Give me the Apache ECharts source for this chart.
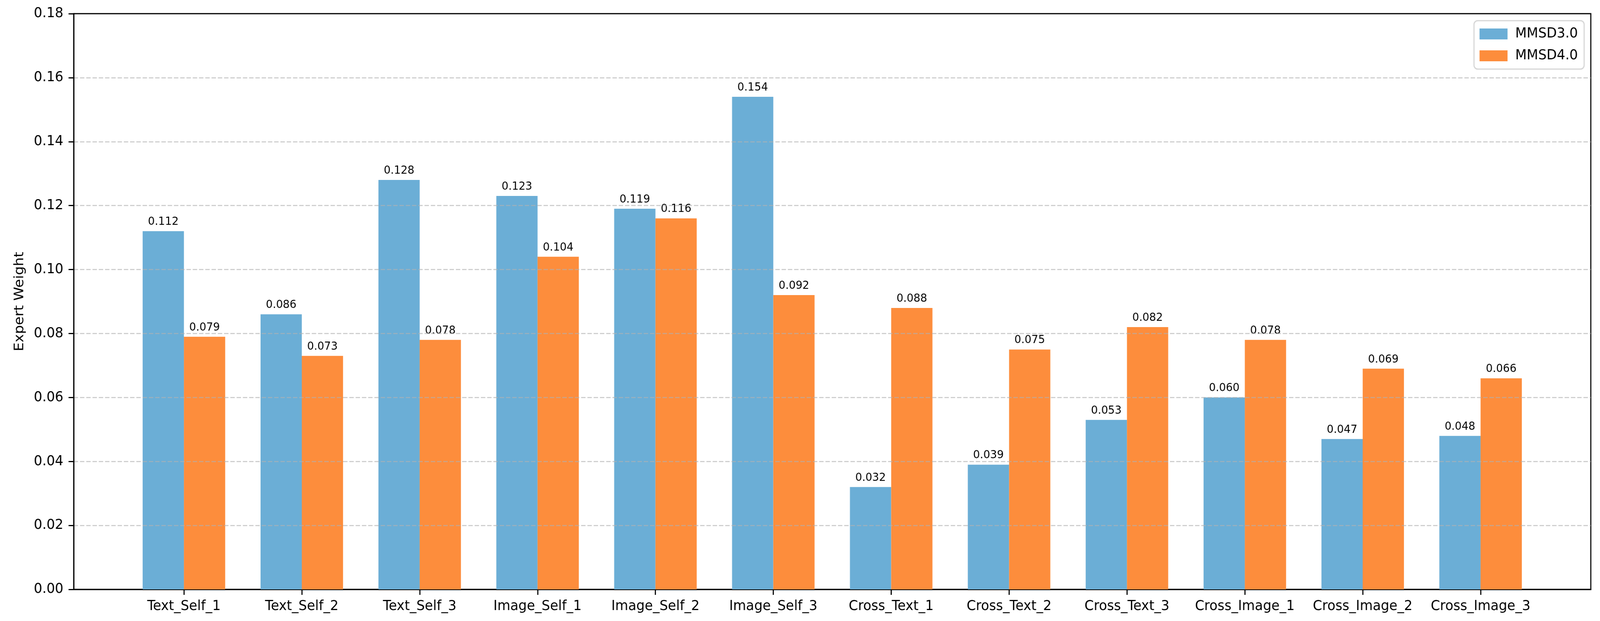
<!DOCTYPE html>
<html>
<head>
<meta charset="utf-8">
<script src="https://cdn.jsdelivr.net/npm/echarts@6/dist/echarts.min.js"></script>
<style>
html,body{margin:0;padding:0;background:#fff;overflow:hidden;}
#chart{width:4342px;height:1591px;transform-origin:0 0;}
</style>
</head>
<body>
<div id="chart"></div>
<script>
const categories = ['Text_Self_1','Text_Self_2','Text_Self_3','Image_Self_1','Image_Self_2','Image_Self_3','Cross_Text_1','Cross_Text_2','Cross_Text_3','Cross_Image_1','Cross_Image_2','Cross_Image_3'];
const mmsd3 = [0.112, 0.086, 0.128, 0.123, 0.119, 0.154, 0.032, 0.039, 0.053, 0.060, 0.047, 0.048];
const mmsd4 = [0.079, 0.073, 0.078, 0.104, 0.116, 0.092, 0.088, 0.075, 0.082, 0.078, 0.069, 0.066];
const seriesNames = ['MMSD3.0', 'MMSD4.0'];

// fit the 4342x1591 design into the actual viewport
const W = 4342, H = 1591;
const box = document.getElementById('chart');
const sx = (window.innerWidth || W) / W, sy = (window.innerHeight || H) / H;
box.style.transform = 'scale(' + sx + ',' + sy + ')';

const FONT = 'DejaVu Sans';
const idx = categories.map((c, i) => i);
const chart = echarts.init(box, null, {renderer: 'canvas', width: W, height: H});

function barSeries(name, vals, color) {
  return {
    name: name,
    type: 'bar',
    data: vals.map((v, i) => [i, v]),
    barWidth: '35%',
    barGap: '0%',
    itemStyle: {color: color},
    label: {
      show: true,
      position: 'top',
      distance: 9,
      fontFamily: FONT,
      fontSize: 29,
      color: '#000',
      formatter: p => p.value[1].toFixed(3)
    },
    z: 2
  };
}

chart.setOption({
  animation: false,
  backgroundColor: '#fff',
  grid: {
    left: 200, top: 35, right: 25, bottom: 81,
    show: true, borderColor: '#000', borderWidth: 3, backgroundColor: 'transparent'
  },
  legend: {
    data: seriesNames,
    orient: 'vertical',
    right: 43, top: 53,
    icon: 'rect',
    itemWidth: 76, itemHeight: 28, itemGap: 20,
    padding: [16, 17, 16, 15],
    borderColor: '#d6d6d6', borderWidth: 3, borderRadius: 10,
    backgroundColor: '#fff',
    textStyle: {fontFamily: FONT, fontSize: 36, color: '#000', padding: [0, 0, 0, 16]}
  },
  xAxis: {
    type: 'value',
    min: -0.935, max: 11.935,
    axisLine: {show: true, onZero: false, lineStyle: {color: '#000', width: 3}},
    axisTick: {show: true, length: 14, lineStyle: {color: '#000', width: 3}, customValues: idx},
    axisLabel: {
      show: true, customValues: idx, margin: 26,
      fontFamily: FONT, fontSize: 36, color: '#000',
      formatter: v => categories[Math.round(v)] || ''
    },
    splitLine: {show: false}
  },
  yAxis: {
    type: 'value',
    min: 0, max: 0.18, interval: 0.02,
    z: 3,
    name: 'Expert Weight',
    nameLocation: 'middle',
    nameGap: 128,
    nameTextStyle: {fontFamily: FONT, fontSize: 36, color: '#000'},
    axisLine: {show: true, onZero: false, lineStyle: {color: '#000', width: 3}},
    axisTick: {show: true, length: 14, lineStyle: {color: '#000', width: 3}},
    axisLabel: {
      margin: 28, fontFamily: FONT, fontSize: 36, color: '#000',
      formatter: v => v.toFixed(2)
    },
    splitLine: {show: true, showMinLine: false, showMaxLine: false,
      lineStyle: {color: 'rgba(176,176,176,0.6)', width: 3, type: [12, 5]}}
  },
  series: [
    barSeries(seriesNames[0], mmsd3, '#6baed6'),
    barSeries(seriesNames[1], mmsd4, '#fd8d3c')
  ]
});
</script>
</body>
</html>
